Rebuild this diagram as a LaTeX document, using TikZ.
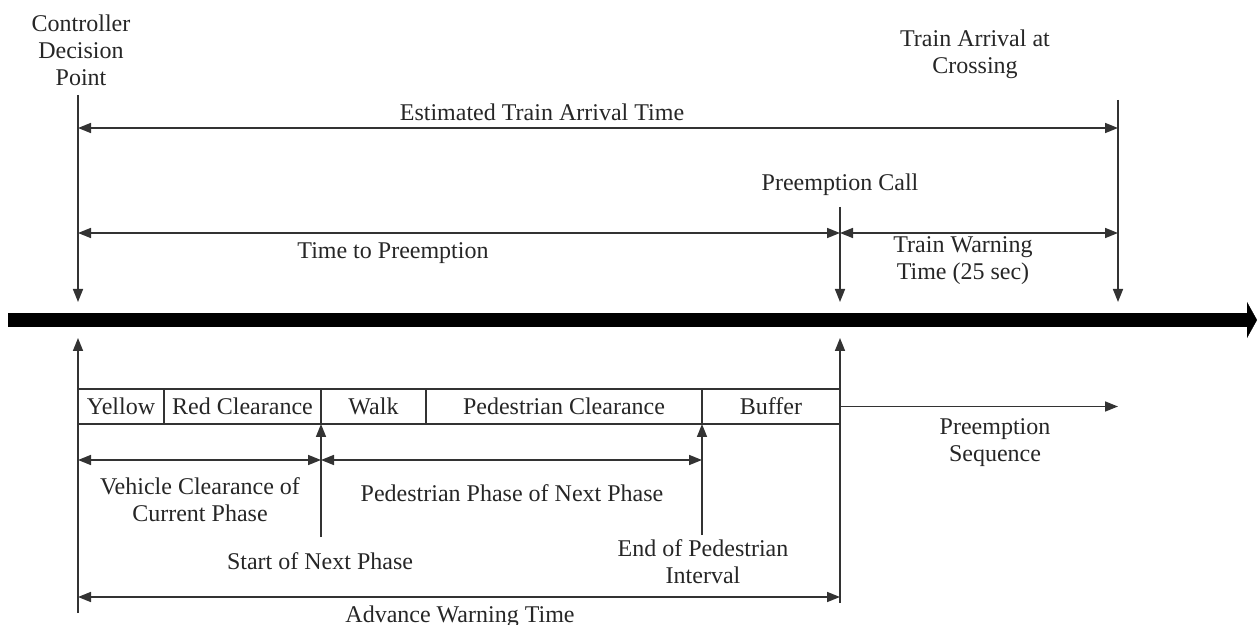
\documentclass[tikz,border=0pt]{standalone}
\usepackage{fontspec}
\setmainfont{Liberation Serif}
\usetikzlibrary{arrows.meta, positioning}

\begin{document}
\begin{tikzpicture}[x=0.5pt, y=-0.5pt,
  every node/.style={font=\fontsize{12}{13.5}\selectfont, inner sep=0pt, align=center, anchor=north, text=black!85},
  line/.style={draw=black!80, line width=0.8pt},
  tip/.style={-{Triangle[length=6.5pt, width=5pt]}},
  tips/.style={{Triangle[length=6.5pt, width=5pt]}-{Triangle[length=6.5pt, width=5pt]}},
  track/.style={draw=black, line width=7pt, -{Triangle[length=5pt, width=18pt, line width=0.1pt]}},
  cell/.style={draw=black!80, line width=0.8pt, outer sep=0pt, minimum height=17.5pt, anchor=center}]
\useasboundingbox (0,0) rectangle (1258,625);

% time line
\coordinate (T0) at (8,320);
\coordinate (T1) at (1257,320);
\draw [track] (T0) -- (T1);

% upper marks
\coordinate (dTop) at (78,95);
\coordinate (dBot) at (78,302);
\coordinate (pTop) at (840,207);
\coordinate (pBot) at (840,302);
\coordinate (aTop) at (1118,100);
\coordinate (aBot) at (1118,302);
\draw [line, tip] (dTop) -- (dBot);
\draw [line, tip] (pTop) -- (pBot);
\draw [line, tip] (aTop) -- (aBot);

\node (ctrl) at (81,14) {Controller\\Decision\\Point};
\node (arr) at (975,29) {Train Arrival at\\Crossing};
\node (call) at (840,173) {Preemption Call};

% upper spans
\coordinate (estL) at (78,128);
\coordinate (estR) at (1118,128);
\draw [line, tips] (estL) -- (estR);
\node (est) at (542,103) {Estimated Train Arrival Time};

\coordinate (ttpL) at (78,233);
\coordinate (ttpR) at (840,233);
\coordinate (twtR) at (1118,233);
\draw [line, tips] (ttpL) -- (ttpR);
\draw [line, tips] (ttpR) -- (twtR);
\node (ttp) at (393,242) {Time to Preemption};
\node (twt) at (963,236) {Train Warning\\Time (25 sec)};

% lower marks
\coordinate (dLow) at (78,613);
\coordinate (dUp) at (78,338);
\coordinate (pLow) at (840,603);
\coordinate (pUp) at (840,338);
\draw [line, tip] (dLow) -- (dUp);
\draw [line, tip] (pLow) -- (pUp);

% signal phases
\node [cell, minimum width=43pt, anchor=west] (yellow) at (78,406.5) {Yellow};
\node [cell, minimum width=78.5pt, right=0pt of yellow] (red) {Red Clearance};
\node [cell, minimum width=52.5pt, right=0pt of red] (walk) {Walk};
\node [cell, minimum width=138pt, right=0pt of walk] (ped) {Pedestrian Clearance};
\node [cell, minimum width=69pt, right=0pt of ped] (buffer) {Buffer};

\coordinate (seqEnd) at (1118,406.5);
\draw [line, tip] (buffer.east) -- (seqEnd);
\node (seq) at (995,418) {Preemption\\Sequence};

% lower spans
\coordinate (vehL) at (78,460);
\coordinate (vehR) at (321,460);
\coordinate (pphR) at (702,460);
\draw [line, tips] (vehL) -- (vehR);
\draw [line, tips] (vehR) -- (pphR);
\node (veh) at (200,477) {Vehicle Clearance of\\Current Phase};
\node (pph) at (512,484) {Pedestrian Phase of Next Phase};

\coordinate (startLow) at (321,537);
\coordinate (endLow) at (702,535);
\draw [line, tip] (startLow) -- (red.south east);
\draw [line, tip] (endLow) -- (ped.south east);
\node (start) at (320,552) {Start of Next Phase};
\node (endped) at (703,539) {End of Pedestrian\\Interval};

\coordinate (awtL) at (78,597);
\coordinate (awtR) at (840,597);
\draw [line, tips] (awtL) -- (awtR);
\node (awt) at (460,605) {Advance Warning Time};
\end{tikzpicture}
\end{document}
